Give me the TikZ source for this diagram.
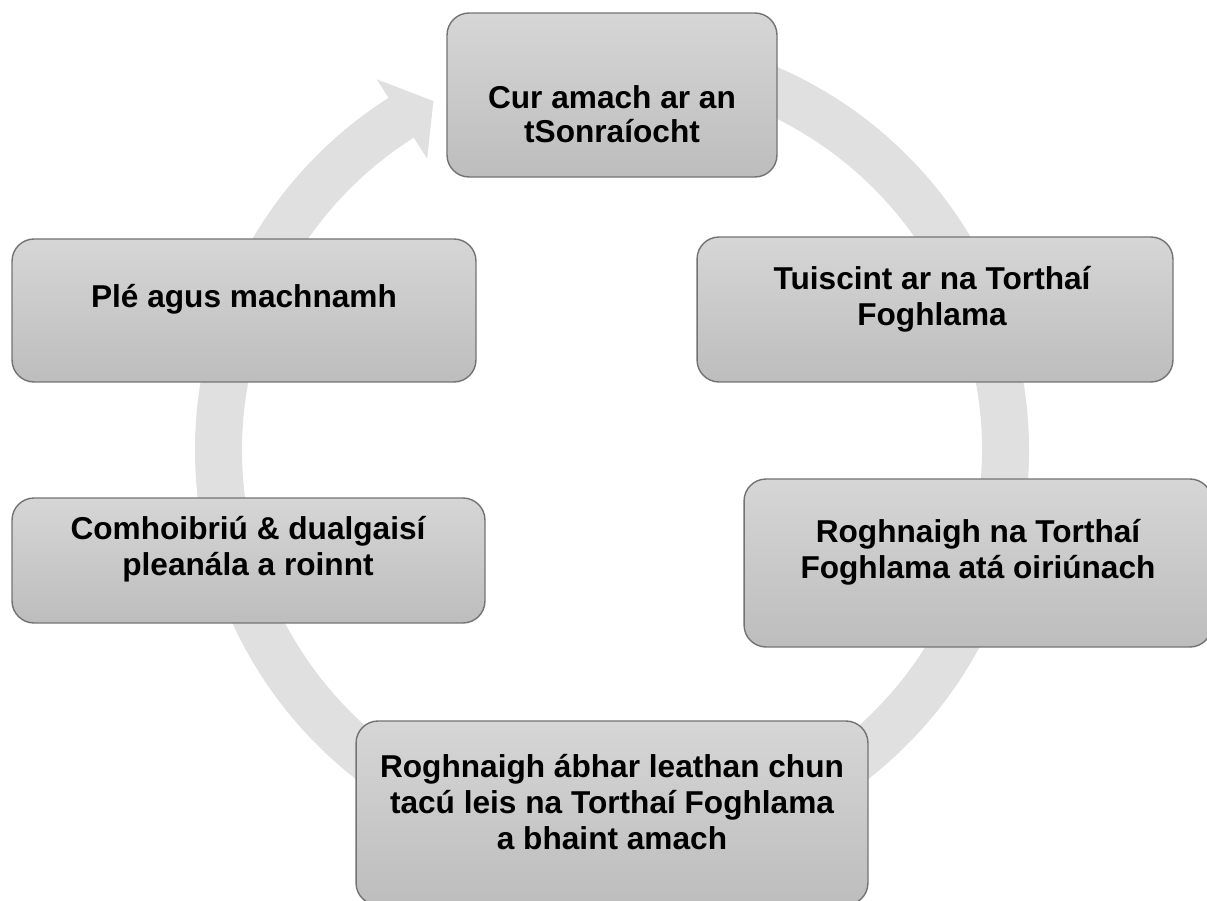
\documentclass[tikz,border=0pt]{standalone}
\usepackage{fontspec}
\setmainfont{Liberation Sans}
\definecolor{ringgray}{HTML}{E0E0E0}
\definecolor{boxtop}{HTML}{D6D6D6}
\definecolor{boxbot}{HTML}{BDBDBD}
\definecolor{boxline}{HTML}{737373}
\begin{document}
\begin{tikzpicture}[x=0.02cm, y=0.02cm,
  stepbox/.style={rectangle, rounded corners=0.44cm, draw=boxline, line width=0.8pt, top color=boxtop, bottom color=boxbot, inner sep=0pt},
  steptext/.style={align=center, inner sep=0pt, font=\fontsize{18}{20.4}\selectfont\bfseries}]
\useasboundingbox (0,0) rectangle (1207,900);
\fill[white] (0,0) rectangle (1207,900);
% cycle arrow behind the boxes
\fill[ringgray, shift={(612,450)}] (95:417) arc[start angle=95, end angle=-237.6, radius=417] -- (122.4:439) -- (117.1:392) -- (122.4:345) -- (122.4:370) arc[start angle=-237.6, end angle=95, radius=370] -- cycle;
% boxes
\node[stepbox, minimum width=6.6cm, minimum height=3.28cm] (sid0) at (612,805){};
\node[stepbox, minimum width=9.52cm, minimum height=2.9cm] (sid1) at (935,590.5){};
\node[stepbox, minimum width=9.36cm, minimum height=3.36cm] (sid2) at (978,337){};
\node[stepbox, minimum width=10.24cm, minimum height=3.68cm] (sid3) at (612,87){};
\node[stepbox, minimum width=9.46cm, minimum height=2.5cm] (sid4) at (248.5,339.5){};
\node[stepbox, minimum width=9.28cm, minimum height=2.86cm] (sid5) at (244,589.5){};
% texts
\node[steptext, font=\fontsize{18}{19.5}\selectfont\bfseries] (tid0) at (612,786){Cur amach ar an\\tSonraíocht};
\node[steptext] (tid1) at (932,601){Tuiscint ar na Torthaí\\Foghlama};
\node[steptext] (tid2) at (978,348){Roghnaigh na Torthaí\\Foghlama atá oiriúnach};
\node[steptext] (tid3) at (612,98){Roghnaigh ábhar leathan chun\\tacú leis na Torthaí Foghlama\\a bhaint amach};
\node[steptext] (tid4) at (248,351){Comhoibriú \& dualgaisí\\pleanála a roinnt};
\node[steptext] (tid5) at (244,601){Plé agus machnamh};
\end{tikzpicture}
\end{document}
